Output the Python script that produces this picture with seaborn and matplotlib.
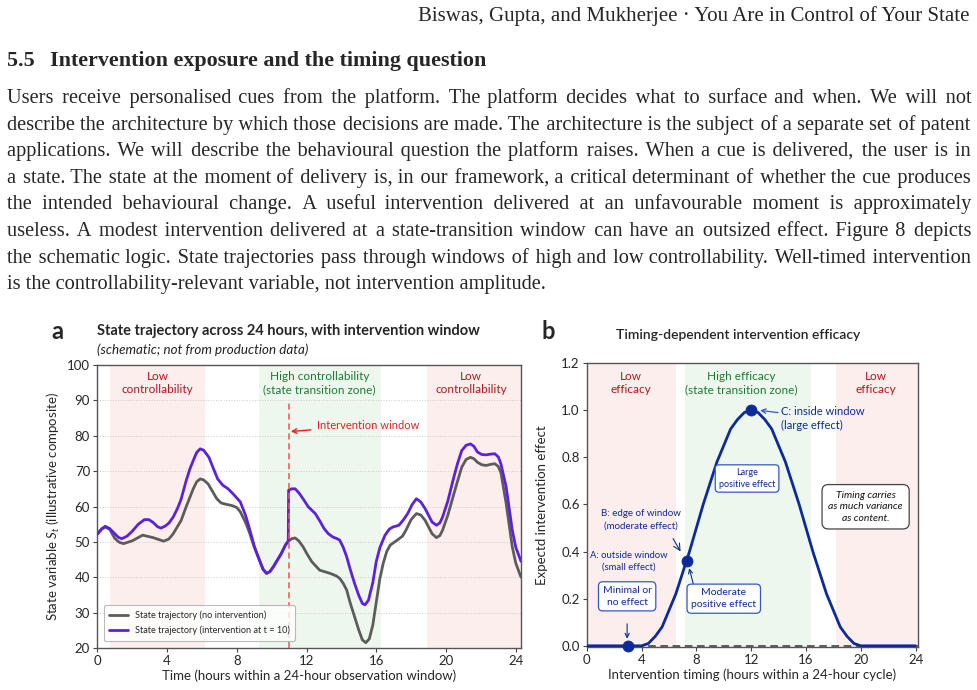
import matplotlib
matplotlib.use("Agg")
import matplotlib.pyplot as plt
import seaborn as sns
import pandas as pd

# ---- page text ----
header = "Biswas, Gupta, and Mukherjee \u00b7 You Are in Control of Your State"
section_no = "5.5"
section_title = "Intervention exposure and the timing question"
body_lines = [
    "Users receive personalised cues from the platform. The platform decides what to surface and when. We will not",
    "describe the architecture by which those decisions are made. The architecture is the subject of a separate set of patent",
    "applications. We will describe the behavioural question the platform raises. When a cue is delivered, the user is in",
    "a state. The state at the moment of delivery is, in our framework, a critical determinant of whether the cue produces",
    "the intended behavioural change. A useful intervention delivered at an unfavourable moment is approximately",
    "useless. A modest intervention delivered at a state-transition window can have an outsized effect. Figure 8 depicts",
    "the schematic logic. State trajectories pass through windows of high and low controllability. Well-timed intervention",
    "is the controllability-relevant variable, not intervention amplitude.",
]

# ---- panel a: state trajectories ----
hours_base = [0.0, 0.25, 0.45, 0.7, 1.0, 1.25, 1.5, 2.0, 2.6, 3.2, 3.8, 4.1, 4.35, 4.8, 5.1,
              5.5, 5.7, 5.9, 6.1, 6.35, 6.85, 7.1, 7.4, 7.7, 8.0, 8.2, 8.5, 8.75, 9.0, 9.3,
              9.5, 9.7, 9.9, 10.1, 10.55, 10.8, 10.95, 11.15, 11.35, 11.55, 11.8, 12.05,
              12.3, 12.75, 13.35, 13.7, 13.9, 14.1, 14.3, 14.5, 14.75, 15.0, 15.2, 15.4,
              15.6, 15.8, 16.0, 16.2, 16.4, 16.6, 16.8, 17.2, 17.5, 17.7, 18.0, 18.3, 18.55,
              18.8, 19.2, 19.45, 19.65, 19.8, 20.1, 20.4, 20.65, 20.9, 21.15, 21.4, 21.6,
              21.8, 22.05, 22.3, 22.55, 22.8, 23.0, 23.15, 23.45, 23.8, 24.0, 24.3]
state_base = [52.2, 53.6, 54.2, 53.6, 51.0, 49.9, 49.5, 50.3, 51.9, 51.2, 50.2, 50.8, 52.3,
              56.0, 60.0, 65.0, 67.0, 67.8, 67.5, 66.4, 62.2, 61.0, 60.6, 60.3, 59.7, 58.5,
              55.5, 52.3, 48.5, 44.8, 42.3, 41.1, 41.6, 43.0, 46.7, 49.2, 50.2, 50.9, 51.1,
              50.3, 48.6, 46.4, 44.4, 42.0, 41.1, 40.4, 39.7, 38.3, 36.4, 32.8, 28.9, 25.0,
              22.3, 21.5, 22.6, 26.5, 33.0, 39.5, 44.0, 47.3, 49.1, 50.5, 51.6, 53.3, 56.3,
              58.0, 57.6, 56.1, 52.3, 51.2, 51.8, 53.3, 57.5, 62.7, 67.0, 71.1, 73.3, 73.9,
              73.5, 72.5, 71.8, 71.6, 71.9, 72.1, 71.3, 69.5, 60.8, 48.6, 44.0, 40.0]
hours_int = [0.0, 0.25, 0.45, 0.7, 1.0, 1.2, 1.4, 1.7, 2.0, 2.35, 2.7, 2.95, 3.2, 3.45, 3.65,
             3.9, 4.1, 4.35, 4.6, 4.8, 5.1, 5.3, 5.5, 5.7, 5.9, 6.1, 6.4, 6.65, 6.9, 7.2, 7.5,
             7.8, 8.2, 8.5, 8.75, 9.0, 9.3, 9.5, 9.7, 9.9, 10.1, 10.55, 10.8, 10.95, 10.97,
             11.15, 11.35, 11.6, 11.85, 12.1, 12.5, 12.75, 13.0, 13.25, 13.5, 13.75, 13.9,
             14.1, 14.3, 14.5, 14.75, 15.0, 15.2, 15.35, 15.55, 15.8, 16.0, 16.2, 16.5,
             16.75, 16.95, 17.3, 17.55, 17.8, 18.05, 18.3, 18.55, 18.8, 19.2, 19.45, 19.65,
             19.8, 20.1, 20.4, 20.65, 20.9, 21.15, 21.4, 21.6, 21.8, 22.05, 22.3, 22.55,
             22.8, 23.0, 23.15, 23.45, 23.8, 24.0, 24.3]
state_int = [52.2, 53.7, 54.4, 53.8, 52.3, 51.3, 50.9, 51.6, 53.0, 55.0, 56.3, 56.3, 55.5,
             54.3, 53.9, 54.5, 55.3, 57.0, 59.5, 62.0, 67.4, 70.5, 73.0, 75.3, 76.3, 75.9,
             73.9, 70.8, 67.8, 66.0, 65.0, 63.5, 61.3, 57.5, 53.3, 48.8, 44.8, 42.3, 41.1,
             41.6, 43.0, 46.7, 49.2, 50.2, 64.6, 65.0, 65.0, 63.6, 61.8, 59.9, 58.0, 56.0,
             53.8, 52.3, 51.4, 50.9, 50.5, 48.5, 45.8, 42.3, 38.3, 34.8, 32.6, 32.2, 33.5,
             38.5, 44.5, 48.3, 51.9, 53.6, 54.2, 54.7, 56.2, 58.0, 60.5, 62.2, 61.3, 59.4,
             55.6, 54.7, 55.4, 57.0, 61.5, 67.4, 72.0, 75.8, 77.3, 77.7, 77.0, 75.4, 74.7,
             74.6, 74.8, 74.9, 74.0, 72.0, 65.5, 53.3, 48.5, 44.5]
low_windows_a = [(0.7, 6.2), (18.9, 24.3)]
high_window_a = (9.3, 16.25)
intervention_time = 11.0

# ---- panel b: timing-dependent efficacy ----
timing = [0, 1, 2, 3, 3.5, 4, 4.5, 5, 5.5, 6, 6.5, 7, 7.5, 8, 8.5, 9, 9.5, 10, 10.5, 11,
          11.5, 12, 12.5, 13, 13.5, 14, 14.5, 15, 15.5, 16, 16.5, 17, 17.5, 18, 18.5, 19,
          19.5, 20, 21, 22, 23, 24]
efficacy = [0, 0, 0, 0, 0, 0, 0.01, 0.04, 0.08, 0.15, 0.22, 0.31, 0.40, 0.50, 0.60, 0.69,
            0.78, 0.85, 0.92, 0.96, 0.99, 1.0, 0.99, 0.96, 0.92, 0.85, 0.78, 0.69, 0.60,
            0.50, 0.40, 0.31, 0.22, 0.15, 0.08, 0.04, 0.01, 0, 0, 0, 0, 0]
marked_t = [3.0, 7.3, 12.0]
marked_e = [0.0, 0.36, 1.0]
low_windows_b = [(0, 6.5), (18.2, 24.15)]
high_window_b = (7.2, 16.4)

sns.set_theme(style="white")
plt.rcParams["font.family"] = ["Lato", "DejaVu Sans"]
plt.rcParams["mathtext.fontset"] = "custom"
plt.rcParams["mathtext.it"] = "Lato:italic"
plt.rcParams["mathtext.rm"] = "Lato"
SERIF = ["Liberation Serif", "DejaVu Sans"]

W, H = 978, 690
fig = plt.figure(figsize=(W / 100, H / 100), dpi=100)
renderer = fig.canvas.get_renderer()


def fx(x):
    return x / W


def fy(y):
    return 1 - y / H


def text_width(s, size, weight="normal"):
    t = fig.text(0, 0, s, fontsize=size, family=SERIF, weight=weight)
    w = t.get_window_extent(renderer).width
    t.remove()
    return w


# ---- page header, section heading, justified paragraph ----
fig.text(fx(970), fy(21), header, family=SERIF, fontsize=15, ha="right", va="baseline")
fig.text(fx(7), fy(66), section_no, family=SERIF, fontsize=15.8, weight="bold", va="baseline")
fig.text(fx(50), fy(66), section_title, family=SERIF, fontsize=15.8, weight="bold", va="baseline")

left, right = 7, 970
body_size = 15
widest = max(text_width(l, body_size) for l in body_lines[:-1])
if widest > right - left:
    body_size *= (right - left) / widest
HAIR = "\u200a"
hair_w = text_width("a" + HAIR * 10 + "a", body_size) - text_width("aa", body_size)
hair_w /= 10
for i, line in enumerate(body_lines):
    base_y = 103 + i * 26.6
    words = line.split()
    if i < len(body_lines) - 1:
        extra = (right - left) - text_width(line, body_size)
        per_gap = extra / hair_w / (len(words) - 1)
        out, acc = words[0], 0.0
        for w in words[1:]:
            acc += per_gap
            n = int(round(acc))
            acc -= n
            out += " " + HAIR * n + w
        line = out
    fig.text(fx(left), fy(base_y), line, family=SERIF, fontsize=body_size, va="baseline")

RED_BG = "#fdeaea"
GREEN_BG = "#eaf6ea"
LOW_TXT = "#b3161c"
HIGH_TXT = "#1d7a33"

# ---- panel a ----
ax = fig.add_axes([fx(97), fy(648), fx(521) - fx(97), fy(365) - fy(648)])
for lo, hi in low_windows_a:
    ax.axvspan(lo, hi, color=RED_BG, alpha=0.8, lw=0, zorder=0)
ax.axvspan(*high_window_a, color=GREEN_BG, alpha=0.8, lw=0, zorder=0)
for yv in range(30, 100, 10):
    ax.axhline(yv, color="#cccccc", lw=0.7, ls=":", zorder=0.5)

sns.lineplot(x=hours_base, y=state_base, ax=ax, color="#5c5c5c", lw=2.0, sort=False,
             estimator=None, label="State trajectory (no intervention)", zorder=3)
sns.lineplot(x=hours_int, y=state_int, ax=ax, color="#5a22e0", lw=2.0, sort=False,
             estimator=None, label="State trajectory (intervention at t = 10)", zorder=4)
ax.vlines(intervention_time, 20, 90, colors="#ff4d4d", linestyles=(0, (4, 2.5)), lw=1.1, zorder=5)

ax.set_xlim(-0.02, 24.3)
ax.set_ylim(20, 100)
ax.set_xticks(range(0, 25, 4))
ax.set_yticks(range(20, 101, 10))
ax.tick_params(axis="both", labelsize=9.5, length=3, width=0.8, color="#444444", pad=2)
ax.tick_params(left=True, bottom=True)
for s in ax.spines.values():
    s.set_color("#555555")
    s.set_linewidth(1.0)
ax.set_xlabel("Time (hours within a 24-hour observation window)", fontsize=9.5, labelpad=2)
ax.set_ylabel("State variable $S_t$ (illustrative composite)", fontsize=9.5)
ax.yaxis.set_label_coords(-0.083, 0.5)

ax.text(3.45, 95, "Low\ncontrollability", ha="center", va="center", fontsize=8.5, color=LOW_TXT,
        linespacing=1.25)
ax.text(12.75, 95, "High controllability\n(state transition zone)", ha="center", va="center",
        fontsize=8.5, color=HIGH_TXT, linespacing=1.25)
ax.text(21.45, 95, "Low\ncontrollability", ha="center", va="center", fontsize=8.5, color=LOW_TXT,
        linespacing=1.25)
ax.annotate("Intervention window", xy=(11.1, 81.2), xytext=(12.6, 83.0), fontsize=8,
            color="#ee1c1c", va="center",
            arrowprops=dict(arrowstyle="->", color="#ee1c1c", lw=1.0, shrinkA=2, shrinkB=0))
leg = ax.legend(loc="lower left", fontsize=6.6, frameon=True, fancybox=True,
                borderpad=0.6, handlelength=2.0, labelspacing=0.55, bbox_to_anchor=(0.005, 0.01))
leg.get_frame().set_edgecolor("#aaaaaa")
leg.get_frame().set_linewidth(0.8)

fig.text(fx(57), fy(331), "a", fontsize=17, weight="bold", va="center", ha="center")
fig.text(fx(97), fy(331), "State trajectory across 24 hours, with intervention window",
         fontsize=10.5, weight="bold", va="center")
fig.text(fx(97), fy(350), "(schematic; not from production data)", fontsize=9.6,
         style="italic", va="center", color="#222222")

# ---- panel b ----
bx = fig.add_axes([fx(586.7), fy(647), fx(917.7) - fx(586.7), fy(363) - fy(647)])
for lo, hi in low_windows_b:
    bx.axvspan(lo, hi, color=RED_BG, alpha=0.8, lw=0, zorder=0)
bx.axvspan(*high_window_b, color=GREEN_BG, alpha=0.8, lw=0, zorder=0)
bx.axhline(0, color="#333333", lw=1.1, ls=(0, (5, 3)), zorder=1)

NAVY = "#0d2a9c"
BOX_BLUE = "#3358c8"
sns.lineplot(x=timing, y=efficacy, ax=bx, color=NAVY, lw=2.0, estimator=None, zorder=3)
pts = pd.DataFrame({"t": marked_t, "e": marked_e})
sns.scatterplot(data=pts, x="t", y="e", ax=bx, color=NAVY, s=62, edgecolor=NAVY, zorder=5,
                clip_on=False)

bx.set_xlim(0, 24.15)
bx.set_ylim(-0.005, 1.2)
bx.set_xticks(range(0, 25, 4))
bx.set_yticks([0, 0.2, 0.4, 0.6, 0.8, 1.0, 1.2])
bx.set_yticklabels(["0.0", "0.2", "0.4", "0.6", "0.8", "1.0", "1.2"])
bx.tick_params(axis="both", labelsize=9.5, length=3, width=0.8, color="#444444", pad=2)
bx.tick_params(left=True, bottom=True)
for s in bx.spines.values():
    s.set_color("#555555")
    s.set_linewidth(1.0)
bx.set_xlabel("Intervention timing (hours within a 24-hour cycle)", fontsize=9.5, labelpad=2)
bx.set_ylabel("Expectd intervention effect", fontsize=9.5)
bx.yaxis.set_label_coords(-0.117, 0.5)

bx.text(3.2, 1.115, "Low\nefficacy", ha="center", va="center", fontsize=8.5, color=LOW_TXT,
        linespacing=1.25)
bx.text(11.3, 1.115, "High efficacy\n(state transition zone)", ha="center", va="center",
        fontsize=8.5, color=HIGH_TXT, linespacing=1.25)
bx.text(21.1, 1.115, "Low\nefficacy", ha="center", va="center", fontsize=8.5, color=LOW_TXT,
        linespacing=1.25)

bx.annotate("C: inside window\n(large effect)", xy=(12.45, 1.0), xytext=(14.2, 0.965),
            fontsize=8, color=NAVY, va="center", ha="left", linespacing=1.3,
            arrowprops=dict(arrowstyle="->", color=BOX_BLUE, lw=0.9, shrinkA=0, shrinkB=2,
                            relpos=(0, 0.72)))
box_blue = dict(boxstyle="round,pad=0.4,rounding_size=0.4", fc="white", ec=BOX_BLUE, lw=0.9)
bx.text(11.7, 0.71, "Large\npositive effect", ha="center", va="center", fontsize=6.5,
        color=NAVY, bbox=box_blue, linespacing=1.3)
bx.text(20.35, 0.59, "Timing carries\nas much variance\nas content.", ha="center", va="center",
        fontsize=7.5, style="italic", color="#111111", linespacing=1.35,
        bbox=dict(boxstyle="round,pad=0.6,rounding_size=0.6", fc="white", ec="#444444", lw=0.9))
bx.text(3.97, 0.535, "B: edge of window\n(moderate effect)", ha="center", va="center",
        fontsize=7, color=NAVY, linespacing=1.4)
bx.annotate("", xy=(6.95, 0.39), xytext=(6.2, 0.465),
            arrowprops=dict(arrowstyle="->", color=NAVY, lw=0.8))
bx.text(3.1, 0.36, "A: outside window\n(small effect)", ha="center", va="center",
        fontsize=6.8, color=NAVY, linespacing=1.4)
bx.annotate("Minimal or\nno effect", xy=(2.95, 0.03), xytext=(2.95, 0.21), ha="center",
            va="center", fontsize=7.5, color=NAVY, linespacing=1.4, bbox=box_blue,
            arrowprops=dict(arrowstyle="->", color=NAVY, lw=0.8, shrinkA=9, shrinkB=0))
bx.annotate("Moderate\npositive effect", xy=(7.45, 0.335), xytext=(10.0, 0.2), ha="center",
            va="center", fontsize=7.5, color=NAVY, linespacing=1.4, bbox=box_blue,
            arrowprops=dict(arrowstyle="->", color=NAVY, lw=0.8, shrinkA=0, shrinkB=1,
                            relpos=(0.05, 1.0)))

fig.text(fx(548), fy(331), "b", fontsize=17, weight="bold", va="center", ha="center")
fig.text(fx(738), fy(335), "Timing-dependent intervention efficacy", fontsize=10,
         weight="semibold", va="center", ha="center")

fig.savefig("out.png", dpi=100)
